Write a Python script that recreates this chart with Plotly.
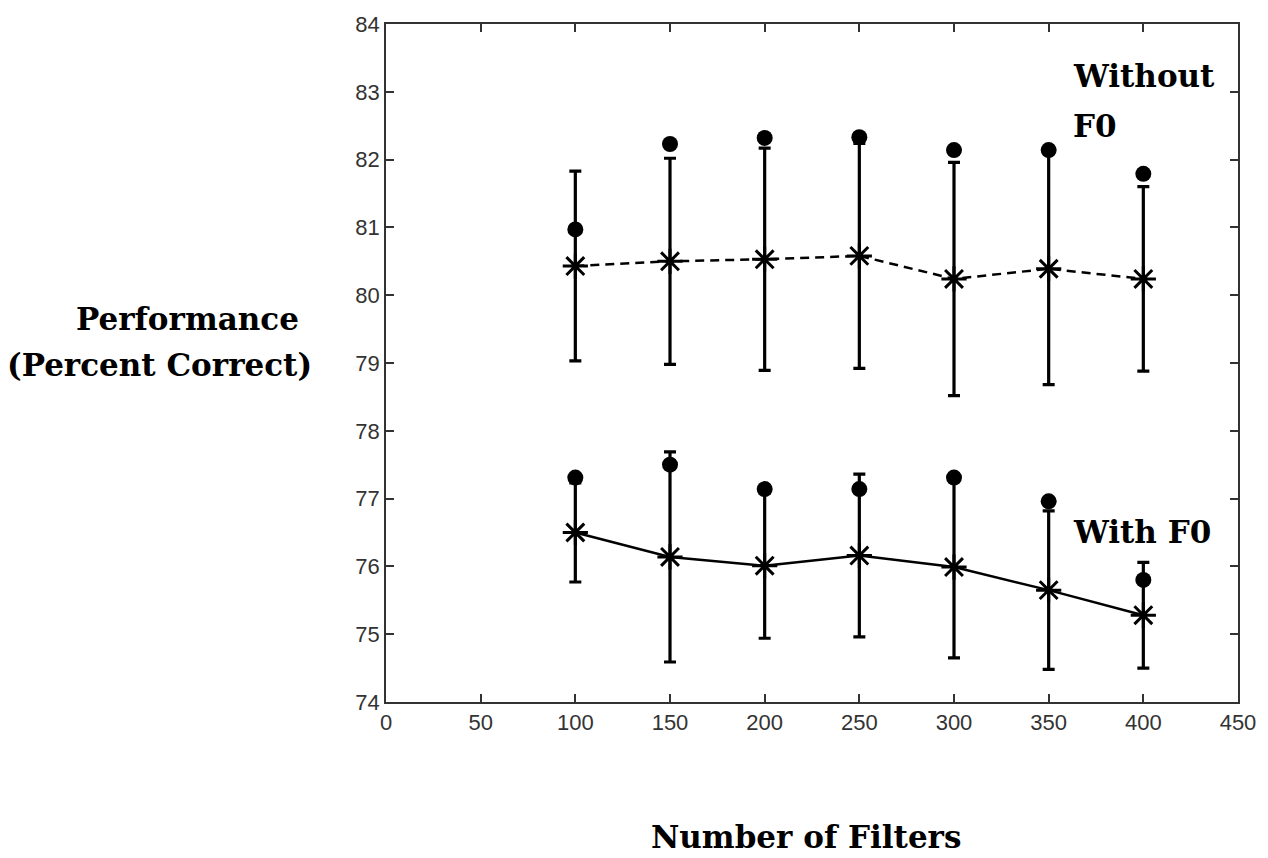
import plotly.graph_objects as go

filters = [100, 150, 200, 250, 300, 350, 400]
without_mean = [80.43, 80.50, 80.53, 80.58, 80.24, 80.39, 80.24]
without_err = [1.40, 1.52, 1.64, 1.66, 1.72, 1.71, 1.36]
without_dot = [80.97, 82.23, 82.32, 82.33, 82.14, 82.14, 81.79]
with_mean = [76.50, 76.14, 76.01, 76.16, 75.99, 75.65, 75.28]
with_err = [0.73, 1.55, 1.07, 1.20, 1.34, 1.17, 0.78]
with_dot = [77.31, 77.50, 77.14, 77.14, 77.31, 76.96, 75.80]

x_ticks = list(range(0, 451, 50))
y_ticks = list(range(74, 85))

W, H = 1268, 858
ML, MR, MT, MB = 386, 25, 23, 156
PW, PH = W - ML - MR, H - MT - MB

def px(x):
    return (x - ML) / PW

def py(y):
    return (H - MB - y) / PH

black = "#000000"
fig = go.Figure()

fig.add_trace(go.Scatter(
    x=filters, y=without_mean, mode="lines+markers",
    line=dict(color=black, width=2.5, dash="9px,6px"),
    marker=dict(symbol="asterisk-open", size=21, line=dict(color=black, width=3)),
    error_y=dict(type="data", array=without_err, visible=True, color=black, thickness=3.2, width=6),
    showlegend=False,
))
fig.add_trace(go.Scatter(
    x=filters, y=with_mean, mode="lines+markers",
    line=dict(color=black, width=2.5),
    marker=dict(symbol="asterisk-open", size=21, line=dict(color=black, width=3)),
    error_y=dict(type="data", array=with_err, visible=True, color=black, thickness=3.2, width=6),
    showlegend=False,
))
fig.add_trace(go.Scatter(
    x=filters, y=without_dot, mode="markers",
    marker=dict(symbol="circle", size=16, color=black),
    showlegend=False,
))
fig.add_trace(go.Scatter(
    x=filters, y=with_dot, mode="markers",
    marker=dict(symbol="circle", size=16, color=black),
    showlegend=False,
))

axis_common = dict(
    showline=True, linecolor="#333333", linewidth=1.5, mirror="ticks",
    ticks="inside", ticklen=8, tickwidth=1.5, tickcolor="#333333",
    showgrid=False, zeroline=False,
    tickfont=dict(family="Liberation Sans, Arial, sans-serif", size=22, color="#333333"),
)
fig.update_xaxes(range=[0, 450], tickvals=x_ticks, ticktext=[str(v) for v in x_ticks], **axis_common)
fig.update_yaxes(range=[74, 84], tickvals=y_ticks, ticktext=[str(v) for v in y_ticks], **axis_common)

serif = dict(family="DejaVu Serif, serif", size=31, color="#000000")
annos = [
    dict(text="<b>Performance</b>", x=px(186), y=py(318), xanchor="center", yanchor="middle"),
    dict(text="<b>(Percent Correct)</b>", x=px(158), y=py(365), xanchor="center", yanchor="middle"),
    dict(text="<b>Without</b>", x=px(1075), y=py(75), xanchor="left", yanchor="middle"),
    dict(text="<b>F0</b>", x=px(1075), y=py(125), xanchor="left", yanchor="middle"),
    dict(text="<b>With F0</b>", x=px(1075), y=py(532), xanchor="left", yanchor="middle"),
    dict(text="<b>Number of Filters</b>", x=px(808), y=py(837), xanchor="center", yanchor="middle"),
]
for a in annos:
    fig.add_annotation(xref="paper", yref="paper", showarrow=False, font=serif, **a)

fig.update_layout(
    width=W, height=H,
    margin=dict(l=ML, r=MR, t=MT, b=MB),
    paper_bgcolor="white", plot_bgcolor="white",
)

fig.write_html("out.html")
